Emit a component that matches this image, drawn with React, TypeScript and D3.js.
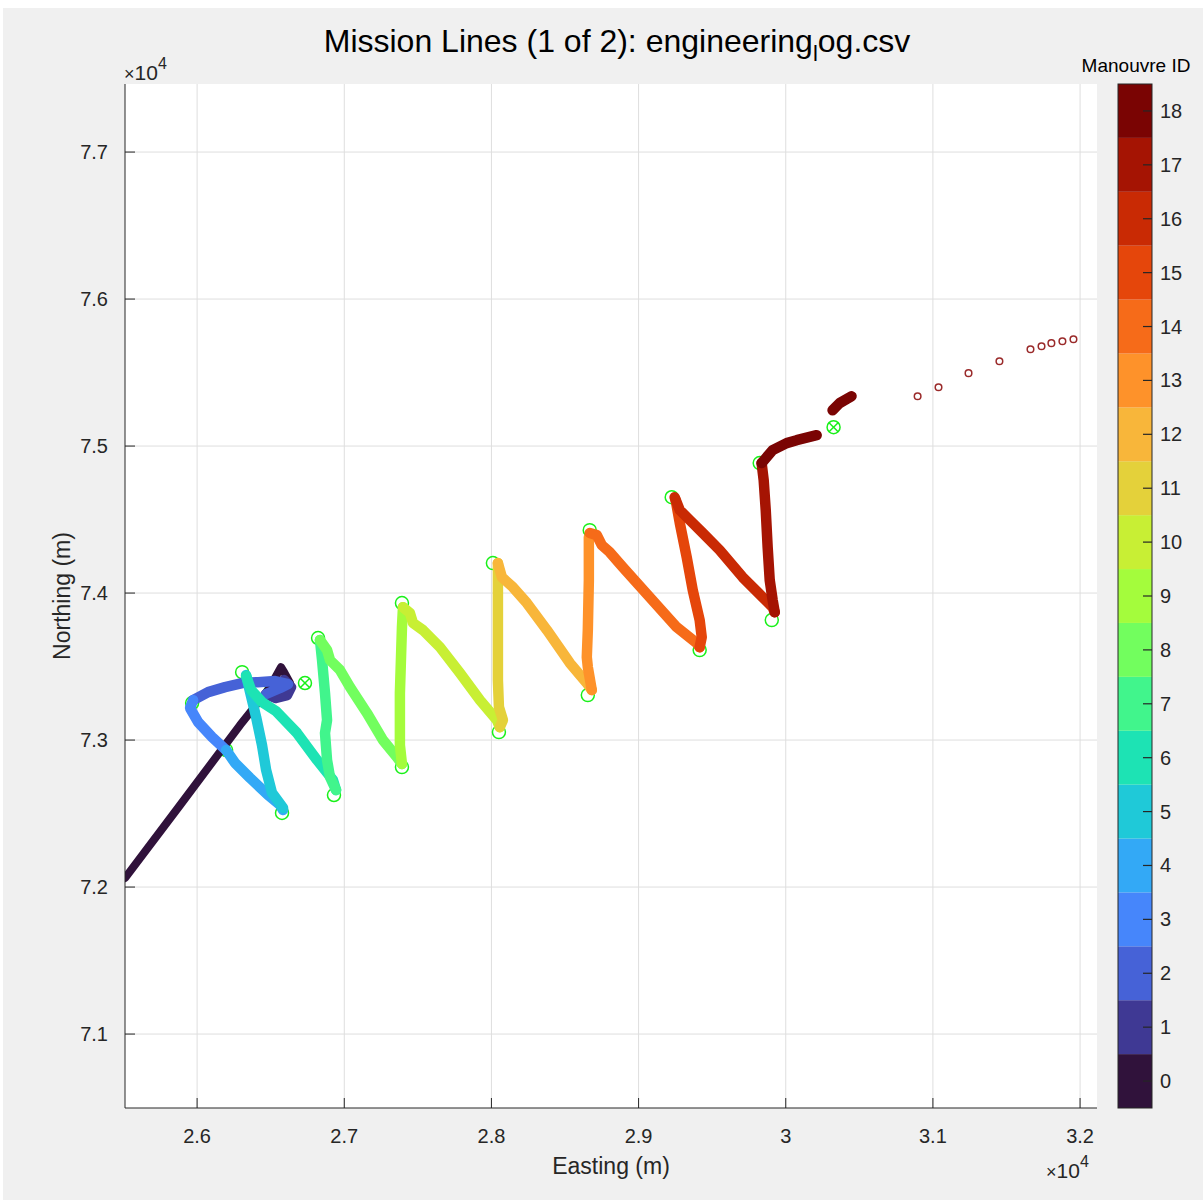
import React from "react";
import * as d3 from "d3";

// Manoeuvre IDs and their colour-map entries (turbo, 19 levels)
const manoeuvreIds = [0, 1, 2, 3, 4, 5, 6, 7, 8, 9, 10, 11, 12, 13, 14, 15, 16, 17, 18];
const manoeuvreColors = [
  "#30123b", "#3f3994", "#4662d7", "#4686fb", "#33a9f6", "#1fc9d8", "#1de3b4",
  "#41f58c", "#72fe5e", "#a4fc3c", "#c8ef34", "#e4d13a", "#f8b63a", "#fe922a",
  "#f66b19", "#e5460b", "#c92a04", "#a51403", "#7a0403",
];

const xTicks = [26000, 27000, 28000, 29000, 30000, 31000, 32000];
const yTicks = [71000, 72000, 73000, 74000, 75000, 76000, 77000];
const xDomain = [25510, 32115];
const yDomain = [70497, 77463];

// Track segments (Easting / Northing in metres), tagged by manoeuvre ID
const trackIds = [0, 1, 2, 3, 4, 5, 6, 7, 8, 9, 10, 11, 12, 13, 14, 15, 16, 17, 18, 18];
const trackEasting = [
  [25511, 25885, 26292, 26482, 26536, 26570, 26591, 26631],
  [26591, 26638, 26611, 26536, 26469],
  [26469, 26564, 26618, 26530, 26414, 26306, 26190, 26075, 25973],
  [25973, 25952, 26007, 26102, 26197],
  [26197, 26258, 26360, 26482, 26564, 26584],
  [26584, 26509, 26469, 26441, 26401, 26360, 26333],
  [26333, 26367, 26441, 26536, 26679, 26815, 26923, 26944],
  [26944, 26903, 26883, 26869, 26883, 26869, 26849, 26835],
  [26835, 26883, 26903, 26971, 27039, 27154, 27263, 27358, 27392],
  [27392, 27378, 27378, 27392, 27399],
  [27399, 27446, 27467, 27535, 27650, 27786, 27922, 28037, 28057],
  [28057, 28078, 28051, 28044, 28044, 28044],
  [28044, 28071, 28146, 28241, 28377, 28533, 28648, 28682],
  [28682, 28655, 28648, 28655, 28662, 28662],
  [28668, 28716, 28750, 28804, 28893, 29076, 29259, 29395, 29415],
  [29415, 29429, 29415, 29368, 29327, 29280, 29252],
  [29252, 29245, 29280, 29348, 29436, 29551, 29707, 29843, 29911, 29925],
  [29925, 29911, 29891, 29877, 29864, 29850, 29836],
  [29836, 29911, 30006, 30074, 30210],
  [30318, 30366, 30447],
];
const trackNorthing = [
  [72062, 72558, 73102, 73340, 73435, 73496, 73462, 73388],
  [73408, 73360, 73306, 73286, 73313],
  [73313, 73354, 73381, 73401, 73394, 73388, 73360, 73326, 73272],
  [73272, 73218, 73122, 73020, 72932],
  [72932, 72844, 72742, 72626, 72558, 72524],
  [72538, 72640, 72796, 72966, 73156, 73326, 73442],
  [73435, 73340, 73258, 73197, 73048, 72864, 72728, 72660],
  [72660, 72748, 72864, 73048, 73136, 73320, 73544, 73680],
  [73680, 73612, 73544, 73476, 73360, 73184, 73000, 72884, 72837],
  [72837, 72966, 73320, 73768, 73904],
  [73904, 73864, 73796, 73748, 73632, 73456, 73272, 73136, 73088],
  [73088, 73136, 73224, 73408, 73864, 74204],
  [74204, 74108, 74040, 73932, 73748, 73524, 73388, 73340],
  [73340, 73496, 73564, 73748, 74088, 74380],
  [74408, 74394, 74326, 74278, 74176, 73972, 73768, 73660, 73632],
  [73632, 73700, 73816, 74020, 74244, 74476, 74632],
  [74632, 74652, 74564, 74496, 74408, 74292, 74108, 73972, 73904, 73870],
  [73870, 73952, 74088, 74312, 74564, 74768, 74884],
  [74884, 74972, 75020, 75040, 75074],
  [75244, 75292, 75339],
];

// Planned (not yet executed) points of manoeuvre 18
const plannedEasting = [30896, 31038, 31242, 31452, 31663, 31738, 31805, 31880, 31955];
const plannedNorthing = [75339, 75400, 75496, 75577, 75659, 75679, 75700, 75713, 75727];

// Waypoints (green open circles)
const waypointEasting = [25966, 26496, 26197, 26577, 26306, 26930, 26822, 27392, 27392, 28051, 28010, 28655, 28668, 29415, 29225, 29905, 29823];
const waypointNorthing = [73252, 73326, 72932, 72504, 73462, 72626, 73694, 72816, 73932, 73054, 74204, 73306, 74428, 73612, 74652, 73816, 74884];

// Start / target markers (circle with cross)
const crossEasting = [26733, 30325];
const crossNorthing = [73388, 75128];

const W = 1203;
const H = 1200;
const PL = 125, PR = 1097, PT = 84, PB = 1108;
const CB_L = 1118, CB_R = 1152;
const FONT = "'Liberation Sans', Arial, Helvetica, sans-serif";
const TXT = "#262626";

export default function App() {
  const x = d3.scaleLinear().domain(xDomain).range([PL, PR]);
  const y = d3.scaleLinear().domain(yDomain).range([PB, PT]);
  const cb = d3.scaleLinear().domain([-0.5, 18.5]).range([PB, PT]);
  const line = d3
    .line<[number, number]>()
    .x((d) => x(d[0]))
    .y((d) => y(d[1]));
  const fmt = (v: number) => String(+(v / 1e4).toFixed(1));
  const green = "#19f019";

  return (
    <svg
      width={W}
      height={H}
      style={{ position: "absolute", left: 0, top: 0, fontFamily: FONT }}
    >
      <rect x={0} y={0} width={W} height={H} fill="#ffffff" />
      <rect x={3} y={8} width={W - 3} height={H - 8} fill="#f0f0f0" />
      <rect x={PL} y={PT} width={PR - PL} height={PB - PT} fill="#ffffff" />

      {/* grid */}
      {xTicks.map((t) => (
        <line key={"gx" + t} x1={x(t)} x2={x(t)} y1={PT} y2={PB} stroke="#dedede" strokeWidth={1} />
      ))}
      {yTicks.map((t) => (
        <line key={"gy" + t} x1={PL} x2={PR} y1={y(t)} y2={y(t)} stroke="#dedede" strokeWidth={1} />
      ))}

      <defs>
        <clipPath id="plotclip">
          <rect x={PL} y={PT} width={PR - PL} height={PB - PT} />
        </clipPath>
      </defs>

      <g clipPath="url(#plotclip)">
        {/* waypoints */}
        {waypointEasting.map((e, i) => (
          <circle key={"wp" + i} cx={x(e)} cy={y(waypointNorthing[i])} r={6.5} fill="none" stroke={green} strokeWidth={1.5} />
        ))}
        {crossEasting.map((e, i) => {
          const cx = x(e), cy = y(crossNorthing[i]), r = 6.5, d = r * 0.7;
          return (
            <g key={"cr" + i} stroke={green} strokeWidth={1.5} fill="none">
              <circle cx={cx} cy={cy} r={r} />
              <line x1={cx - d} y1={cy - d} x2={cx + d} y2={cy + d} />
              <line x1={cx - d} y1={cy + d} x2={cx + d} y2={cy - d} />
            </g>
          );
        })}

        {/* tracks */}
        {trackEasting.map((es, i) => {
          const pts = es.map((e, j) => [e, trackNorthing[i][j]] as [number, number]);
          const id = trackIds[i];
          return (
            <path
              key={"tr" + i}
              d={line(pts) || ""}
              fill="none"
              stroke={manoeuvreColors[id]}
              strokeWidth={id === 0 ? 8 : 10.5}
              strokeLinecap="round"
              strokeLinejoin="round"
            />
          );
        })}

        {/* planned points */}
        {plannedEasting.map((e, i) => (
          <circle key={"pl" + i} cx={x(e)} cy={y(plannedNorthing[i])} r={3.3} fill="#ffffff" stroke="#9a2a2a" strokeWidth={1.5} />
        ))}
      </g>

      {/* axes */}
      <line x1={PL} x2={PR} y1={PB} y2={PB} stroke={TXT} strokeWidth={1} />
      <line x1={PL} x2={PL} y1={PT} y2={PB} stroke={TXT} strokeWidth={1} />
      {xTicks.map((t) => (
        <g key={"xt" + t}>
          <line x1={x(t)} x2={x(t)} y1={PB} y2={PB - 10} stroke={TXT} strokeWidth={1} />
          <text x={x(t)} y={1143} textAnchor="middle" fontSize={20} fill={TXT}>
            {fmt(t)}
          </text>
        </g>
      ))}
      {yTicks.map((t) => (
        <g key={"yt" + t}>
          <line x1={PL} x2={PL + 10} y1={y(t)} y2={y(t)} stroke={TXT} strokeWidth={1} />
          <text x={108} y={y(t) + 7} textAnchor="end" fontSize={20} fill={TXT}>
            {fmt(t)}
          </text>
        </g>
      ))}

      {/* exponent labels */}
      <text x={124} y={80} fontSize={21} fill={TXT}>
        <tspan fontSize={18}>×</tspan>10
        <tspan dy={-11} fontSize={16}>4</tspan>
      </text>
      <text x={1046} y={1178} fontSize={21} fill={TXT}>
        <tspan fontSize={18}>×</tspan>10
        <tspan dy={-11} fontSize={16}>4</tspan>
      </text>

      {/* axis labels */}
      <text x={(PL + PR) / 2} y={1174} textAnchor="middle" fontSize={23} fill={TXT}>
        Easting (m)
      </text>
      <text transform={`translate(70, ${(PT + PB) / 2}) rotate(-90)`} textAnchor="middle" fontSize={23} fill={TXT}>
        Northing (m)
      </text>

      {/* title */}
      <text x={617} y={52} textAnchor="middle" fontSize={32} fill="#000000">
        Mission Lines (1 of 2): engineering
        <tspan dy={9} fontSize={22}>l</tspan>
        <tspan dy={-9}>og.csv</tspan>
      </text>

      {/* colorbar */}
      {manoeuvreIds.map((id) => (
        <rect
          key={"cb" + id}
          x={CB_L}
          y={cb(id + 0.5)}
          width={CB_R - CB_L}
          height={cb(id - 0.5) - cb(id + 0.5)}
          fill={manoeuvreColors[id]}
        />
      ))}
      <rect x={CB_L} y={PT} width={CB_R - CB_L} height={PB - PT} fill="none" stroke={TXT} strokeWidth={1} />
      {manoeuvreIds.map((id) => (
        <g key={"cbt" + id}>
          <line x1={CB_R} x2={CB_R - 9} y1={cb(id)} y2={cb(id)} stroke={TXT} strokeWidth={1.2} />
          <text x={1160} y={cb(id) + 7} fontSize={20} fill={TXT}>
            {id}
          </text>
        </g>
      ))}
      <text x={1136} y={72} textAnchor="middle" fontSize={19} fill="#000000">
        Manouvre ID
      </text>
    </svg>
  );
}
